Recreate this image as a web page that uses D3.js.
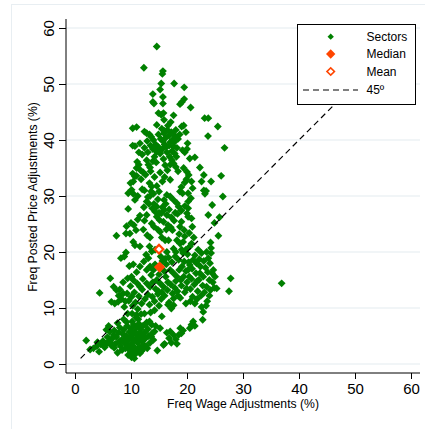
<!DOCTYPE html>
<html><head><meta charset="utf-8">
<script src="https://cdn.jsdelivr.net/npm/d3@7"></script>
<style>
body{margin:0;background:#fff;}
svg{display:block;font-family:"Liberation Sans",Arial,Helvetica,sans-serif;}
</style></head><body>
<svg id="chart" width="425" height="429"></svg>
<script>
// ---- data ----
const xTicks = [0,10,20,30,40,50,60];
const yTicks = [0,10,20,30,40,50,60];
const xTitle = "Freq Wage Adjustments (%)";
const yTitle = "Freq Posted Price Adjustments (%)";
const legendLabels = ["Sectors","Median","Mean","45º"];
const median = [15.1,17.3];
const mean = [15.0,20.5];
const diagonal = [[1,1],[60,60]];
// sectors: [wage freq, price freq]
const sectorsBottom = [
[2.0,4.2],[2.7,2.6],[3.3,2.8],[3.9,3.2],[4.3,2.2],[4.0,3.9],[4.6,3.5],[5.0,4.1],[5.3,3.0],[5.6,6.1],[5.8,4.8],[6.2,5.8],[6.3,3.9],[6.6,4.5],[6.9,5.2],[7.2,3.6],[7.4,4.8],[7.6,2.0],[7.8,5.6],[8.0,6.5],[8.1,3.2],[8.3,4.3],[8.5,5.4],[8.7,6.1],[8.9,3.7],[9.0,2.8],[9.1,5.0],[9.3,6.8],[9.4,4.2],[9.5,1.6],[9.6,3.3],[9.7,5.7],[9.8,2.4],[9.9,4.7],[10.0,6.3],[10.1,1.2],[10.1,3.6],[10.2,5.2],[10.3,2.0],[10.4,4.2],[10.5,7.0],[10.6,3.0],[10.7,5.8],[10.8,1.8],[10.9,4.6],[11.0,6.6],[11.1,2.6],[11.2,3.8],[11.3,5.2],[11.4,7.2],[11.5,4.4],[11.6,3.0],[11.7,6.2],[11.8,5.0],[11.9,2.3],[12.0,4.0],[12.1,6.8],[12.3,3.4],[12.4,5.6],[12.6,4.6],[12.8,7.4],[12.9,2.8],[13.1,5.0],[13.3,7.6],[13.4,3.8],[13.6,4.9],[13.7,7.0],[14.0,4.3],[14.2,5.8],[14.7,2.4],[15.2,6.4],[15.5,8.5],[15.8,3.4],[16.4,5.6],[16.8,4.6],[17.2,3.8],[17.6,5.2],[18.0,4.4],[18.5,5.2],[18.8,6.4],[19.0,5.5],[20.5,6.4],[20.8,7.0],[21.1,7.6],[21.4,6.8],[22.8,7.9],[6.0,4.0],[7.0,2.9],[8.4,2.5],[9.2,7.5],[10.9,8.3],[11.8,8.9],
[8.6,4.0],[9.8,3.0],[10.5,2.6],[11.0,4.2],[11.6,5.6],[12.2,4.8],[12.7,3.2],[13.0,6.2],[10.2,7.6],[9.0,4.6],[7.9,4.0],[7.0,6.0],[6.5,3.3],[5.5,3.5],[12.0,2.5],[13.8,5.5],[14.4,6.8],[8.7,8.0],[7.6,7.3],[6.0,6.8],[11.3,8.0],[12.5,7.0],[16.0,3.6],[17.0,5.8],[18.2,3.6],[19.3,6.0],[11.6,1.9],[10.6,1.0]
];
const sectorsMiddle = [
[4.4,12.7],[6.3,15.3],[6.5,11.1],[6.9,13.8],[7.1,10.8],[7.4,13.2],[7.7,11.1],[8.0,13.3],[8.3,11.6],[8.6,12.6],[8.8,10.2],[8.2,18.9],[8.8,19.2],[9.1,19.9],[9.3,12.6],[9.4,9.0],[9.6,11.3],[9.7,17.5],[9.9,13.9],[10.1,12.0],[10.1,15.6],[10.3,10.4],[10.4,15.0],[10.6,12.8],[10.8,11.0],[11.1,14.4],[11.2,9.8],[11.4,12.1],[11.6,13.8],[11.6,17.4],[11.9,10.8],[12.1,15.2],[12.3,18.3],[12.5,11.6],[12.7,19.5],[12.8,14.4],[13.0,12.4],[13.1,18.9],[13.3,10.6],[13.4,13.8],[13.4,17.4],[13.6,15.9],[13.8,12.0],[14.0,16.8],[14.2,11.2],[14.4,13.4],[14.6,15.0],[14.8,12.5],[15.0,16.0],[15.2,14.4],[15.4,11.6],[15.6,18.4],[15.8,13.8],[16.0,12.2],[16.2,15.6],[16.3,17.8],[16.5,13.2],[16.7,19.0],[16.8,11.0],[17.0,16.8],[17.1,14.2],[17.2,9.9],[17.4,12.6],[17.6,16.2],[17.6,10.5],[17.9,19.2],[18.0,14.8],[18.2,15.6],[18.3,13.0],[18.5,18.6],[18.6,16.8],[18.8,11.8],[19.0,14.0],[19.1,17.4],[19.3,19.8],[19.4,15.6],[19.6,12.8],[19.8,16.6],[20.0,14.6],[20.2,16.8],[20.3,18.2],[20.5,17.7],[20.6,13.4],[20.8,15.2],[21.0,12.0],[21.1,18.6],[21.3,14.2],[21.4,10.8],[21.6,16.2],[21.7,18.0],[21.9,13.0],[22.1,15.0],[22.2,18.7],[22.3,16.2],[22.5,12.2],[22.6,10.2],[22.6,19.8],[22.8,14.0],[22.9,15.6],[22.9,9.3],[23.1,12.8],[23.3,17.2],[23.5,13.8],[23.6,11.2],[23.8,18.9],[24.0,15.0],[24.1,18.0],[24.2,13.2],[24.3,19.8],[24.5,16.2],[24.7,16.8],[24.9,13.6],[25.3,13.5],[27.8,15.3],[27.5,13.0],[36.9,14.4],[24.3,20.7],
[13.9,14.6],[14.3,17.8],[14.9,13.0],[15.5,12.8],[15.9,16.6],[16.6,14.6],[17.3,18.2],[17.8,13.6],[18.4,12.2],[18.9,15.0],[19.5,18.3],[19.9,13.5],[20.4,15.6],[20.9,17.0],[21.4,19.4],[21.8,14.8],[22.4,17.4],[23.0,18.4],[23.7,16.4],[16.1,18.8],[15.3,19.2],[17.6,11.7],[16.6,10.6],[15.0,10.4],[14.2,9.6],[13.5,9.2],[12.4,9.0],[11.0,8.8],[10.2,9.0],[12.0,13.3],[12.8,16.8],[11.0,16.4],[10.4,17.8],[9.4,15.3],[8.6,14.6],[9.0,11.2],[7.8,12.2],[19.8,10.8],[20.6,11.2],[21.8,11.6],[24.6,14.6],[25.0,15.6],[23.4,10.4],[24.0,12.2],[20.1,19.6],[18.0,20.0],[22.0,20.4],[23.5,20.0]
];
const sectorsUpper = [
[7.4,22.9],[9.1,23.3],[9.8,23.3],[10.5,24.8],[10.9,23.9],[10.4,21.8],[10.7,21.2],[11.6,21.0],[9.5,27.7],[10.7,29.3],[10.4,30.4],[10.1,31.1],[9.5,30.5],[9.9,32.3],[10.4,32.6],[10.7,33.5],[10.3,34.0],[11.0,35.0],[11.1,36.1],[11.4,35.6],[11.7,34.6],[11.8,33.0],[12.0,37.4],[12.4,41.5],[12.8,41.2],[10.3,42.1],[11.0,42.3],[11.6,39.4],[10.7,38.9],[10.3,39.0],[12.8,36.4],[13.1,35.6],[13.4,35.1],[13.3,32.3],[13.7,31.7],[13.6,30.8],[13.4,30.0],[14.0,30.4],[12.8,29.0],[13.2,28.6],[14.1,28.6],[14.6,28.1],[12.9,23.0],[13.4,22.6],[13.3,21.0],[13.7,20.1],[14.3,20.4],[13.7,25.1],[14.1,24.5],[12.4,25.6],[11.6,26.5],[11.2,30.0],[12.0,31.2],[12.6,33.8],[13.0,37.8],[13.5,39.0],[13.9,38.4],[14.0,40.0],[13.6,40.6],[14.4,39.2],[14.6,37.9],[14.8,38.8],
[14.6,42.7],[14.9,44.8],[15.4,44.5],[15.8,44.8],[15.5,42.0],[15.9,41.2],[16.2,40.4],[16.5,41.8],[16.8,40.8],[17.0,39.6],[17.2,41.4],[17.4,40.0],[17.6,38.8],[17.8,40.8],[18.0,41.8],[16.0,39.2],[15.6,38.4],[15.2,37.6],[16.4,37.8],[16.9,37.0],[17.3,36.4],[17.8,37.6],[18.2,38.6],[18.4,40.2],[16.1,35.5],[17.6,35.8],[18.0,35.2],[17.0,32.9],[15.6,32.6],[16.4,30.2],[17.0,29.9],[17.6,29.3],[15.9,29.3],[16.2,28.6],[18.2,28.7],[18.5,28.1],[15.4,26.9],[15.9,27.5],[16.4,26.6],[14.6,26.3],[15.1,25.7],[15.8,25.4],[16.6,24.8],[17.1,24.4],[17.4,23.9],[15.5,22.6],[16.1,22.1],[16.7,22.1],[15.2,23.6],[14.8,24.0],[17.6,20.6],[16.4,20.0],[18.2,22.1],[17.9,27.0],[17.2,26.2],[15.0,30.8],[14.6,31.8],[15.2,34.2],[14.2,33.4],[14.5,36.0],[15.8,36.6],
[19.4,42.6],[19.05,42.4],[18.75,46.4],[19.1,46.8],[19.5,47.3],[17.6,44.4],[19.2,38.2],[19.6,37.8],[20.0,38.4],[20.5,36.7],[21.4,36.9],[20.0,34.3],[20.3,33.75],[20.8,32.6],[19.6,32.4],[19.0,31.6],[18.75,30.8],[19.2,30.5],[20.2,30.5],[20.2,29.0],[19.6,28.2],[20.2,27.8],[20.0,26.9],[20.2,26.3],[19.0,25.4],[18.75,24.5],[19.5,23.9],[20.95,24.5],[18.75,21.5],[20.5,21.0],[20.8,21.5],[19.05,20.4],[19.6,22.8],[20.4,23.4],
[22.3,35.1],[23.0,33.75],[26.1,33.6],[24.3,32.6],[23.0,31.0],[23.2,30.4],[26.4,29.9],[24.5,28.4],[25.8,26.2],[24.9,25.2],[25.6,22.9],[24.2,21.7],[23.15,43.9],[23.8,43.9],[25.5,42.4],[23.75,40.7],[26.7,38.6],[20.65,45.8],
[14.6,56.7],[12.3,52.9],[15.7,52.3],[15.6,51.8],[15.4,50.1],[17.7,50.1],[19.5,49.4],[15.2,49.0],[15.7,47.7],[13.9,48.2],[13.9,46.8],[14.1,46.5],[15.7,46.5],
[15.3,40.2],[15.7,39.8],[16.3,38.8],[16.8,39.0],[17.3,38.0],[17.7,39.6],[18.1,37.0],[16.0,41.6],[16.6,42.6],[17.1,43.2],[15.0,38.6],[14.2,37.0],[14.9,41.0],[15.9,43.6],[17.0,35.6],[16.5,34.6],[16.0,33.4],[14.8,29.4],[15.6,28.0],[16.8,27.6],[14.3,27.2],[15.0,27.0],[16.3,24.0],[17.7,25.6],[18.3,26.8],[18.6,23.2],[19.3,21.8],[12.2,24.0],[12.8,26.6],[13.8,27.8],[12.4,38.6],[12.9,39.8],[13.3,41.0],[11.4,37.8],[11.0,33.6],[12.2,34.2],[13.5,34.4],[13.9,36.2],[12.4,31.0],[13.0,29.8],[12.3,28.0],[11.2,25.8],[10.0,25.2],[9.2,24.6],[19.8,41.4],[18.7,41.0],[20.1,39.4],[18.4,34.4],[19.4,35.0],[19.9,33.0],[21.0,31.4],[20.7,29.6],[19.0,27.4],[20.8,26.0],[21.2,22.6],[19.8,20.4],[23.4,30.9],[22.6,32.6],[23.8,26.6]
];
const sectors = sectorsBottom.concat(sectorsMiddle, sectorsUpper);

// ---- chart ----
const GREEN = "#008000", ORANGE = "#ff4500";
const svg = d3.select("#chart");
const x = d3.scaleLinear().domain([0,60]).range([75,411]);
const y = d3.scaleLinear().domain([0,60]).range([364,28]);
const axisX0 = 66, axisY0 = 373;

// graph region outline
svg.append("rect").attr("x",11.5).attr("y",4.5).attr("width",430).attr("height",440)
  .attr("fill","none").attr("stroke","#e8eef2");

// gridlines
svg.append("g").selectAll("line").data(yTicks).join("line")
  .attr("x1",axisX0).attr("x2",420).attr("y1",d=>y(d)).attr("y2",d=>y(d))
  .attr("stroke","#e3ebef").attr("stroke-width",1);

// points
svg.append("g").selectAll("path").data(sectors).join("path")
  .attr("d", d3.symbol().type(d3.symbolSquare).size(31))
  .attr("transform", d=>`translate(${x(d[0])},${y(d[1])}) rotate(45)`)
  .attr("fill", GREEN);

// 45 degree line
svg.append("line")
  .attr("x1",x(diagonal[0][0])).attr("y1",y(diagonal[0][1]))
  .attr("x2",x(diagonal[1][0])).attr("y2",y(diagonal[1][1]))
  .attr("stroke","#000").attr("stroke-width",1.2).attr("stroke-dasharray","6,4");

// median and mean
svg.append("path").attr("d", d3.symbol().type(d3.symbolSquare).size(64))
  .attr("transform",`translate(${x(median[0])},${y(median[1])}) rotate(45)`).attr("fill",ORANGE);
svg.append("path").attr("d", d3.symbol().type(d3.symbolSquare).size(38))
  .attr("transform",`translate(${x(mean[0])},${y(mean[1])}) rotate(45)`)
  .attr("fill","#fff").attr("stroke",ORANGE).attr("stroke-width",2.2);

// axes
const gx = svg.append("g").attr("transform",`translate(0,${axisY0})`)
  .call(d3.axisBottom(x).tickValues(xTicks).tickSize(6).tickSizeOuter(0).tickPadding(4));
gx.select(".domain").remove();
gx.selectAll("text").style("font-size","15px").attr("fill","#000").attr("font-family","inherit");
gx.selectAll("line").attr("stroke","#000");
svg.append("line").attr("x1",axisX0).attr("x2",420).attr("y1",axisY0).attr("y2",axisY0).attr("stroke","#000");

const gy = svg.append("g").attr("transform",`translate(${axisX0},0)`)
  .call(d3.axisLeft(y).tickValues(yTicks).tickSize(7).tickSizeOuter(0));
gy.select(".domain").remove();
gy.selectAll("line").attr("stroke","#000");
gy.selectAll("text").attr("transform","rotate(-90)").attr("x",0).attr("y",-12).attr("dy",0)
  .style("text-anchor","middle").style("font-size","15px").attr("fill","#000").attr("font-family","inherit");
svg.append("line").attr("x1",axisX0).attr("x2",axisX0).attr("y1",19).attr("y2",axisY0).attr("stroke","#000");

// axis titles
svg.append("text").attr("x",243).attr("y",408).attr("text-anchor","middle")
  .style("font-size","12.2px").text(xTitle);
svg.append("text").attr("transform","translate(37,197) rotate(-90)").attr("text-anchor","middle")
  .style("font-size","12.2px").text(yTitle);

// legend
const lg = svg.append("g");
lg.append("rect").attr("x",297.5).attr("y",24.5).attr("width",118).attr("height",80)
  .attr("fill","#fff").attr("stroke","#000").attr("stroke-width",1);
const ly = [36.7,54,71.5,90];
lg.append("path").attr("d", d3.symbol().type(d3.symbolSquare).size(20))
  .attr("transform",`translate(330.7,${ly[0]}) rotate(45)`).attr("fill",GREEN);
lg.append("path").attr("d", d3.symbol().type(d3.symbolSquare).size(44))
  .attr("transform",`translate(330.7,${ly[1]}) rotate(45)`).attr("fill",ORANGE);
lg.append("path").attr("d", d3.symbol().type(d3.symbolSquare).size(28))
  .attr("transform",`translate(330.7,${ly[2]}) rotate(45)`).attr("fill","#fff").attr("stroke",ORANGE).attr("stroke-width",1.6);
lg.append("line").attr("x1",303).attr("x2",358).attr("y1",ly[3]).attr("y2",ly[3])
  .attr("stroke","#000").attr("stroke-width",1.2).attr("stroke-dasharray","6,4");
lg.selectAll("text.lab").data(legendLabels).join("text").attr("class","lab")
  .attr("x",366.5).attr("y",(d,i)=>ly[i]+4.3).style("font-size","12px").text(d=>d);
</script>
</body></html>
